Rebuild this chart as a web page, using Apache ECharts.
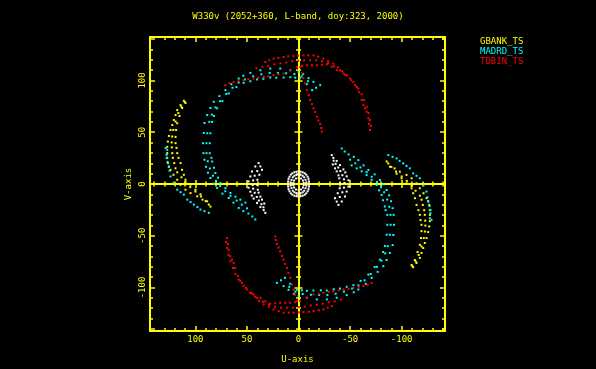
<!DOCTYPE html>
<html><head><meta charset="utf-8">
<script src="https://cdn.jsdelivr.net/npm/echarts@6/dist/echarts.min.js"></script>
<style>html,body{margin:0;padding:0;background:#000;}#c{width:596px;height:369px;}</style>
</head><body><div id="c"></div>
<script>
// ---- data (U, V in plot units; one half of each track; the conjugate half (-U,-V) is added below)
const titleText = 'W330v (2052+360, L-band, doy:323, 2000)';
const seriesNames = ['GBANK_TS', 'MADRD_TS', 'TDBIN_TS'];
const majorTicks = [-100, -50, 0, 50, 100];
const minorTicks = [-140,-130,-120,-110,-90,-80,-70,-60,-40,-30,-20,-10,10,20,30,40,60,70,80,90,110,120,130,140];

const gbankOuter = [[111.2,80.4],[114.4,76.2],[117.6,71.4],[119.2,66.6],[120.9,61.8],[122.4,57.0],[124.1,52.2],[125.7,46.4],[126.7,41.0],[127.3,35.9],[127.3,29.8],[127.3,25.3],[126.7,20.2],[125.7,16.6],[124.1,13.7],[121.2,8.9],[117.6,4.1],[114.4,-0.7],[109.6,-5.5],[104.7,-8.8],[98.2,-11.9],[93.1,-15.1],[87.0,-19.9]];
const gbankMid = [[110.4,79.3],[113.6,74.8],[116.5,68.5],[119.2,60.3],[121.4,52.2],[122.5,45.9],[123.0,40.2],[122.8,35.4],[122.4,29.8],[121.8,25.3],[120.5,20.2],[119.3,15.2],[117.6,11.3],[113.5,6.5],[109.6,2.0],[105.0,-3.0],[100.0,-7.3],[94.5,-12.0],[90.0,-16.5]];
const gbankInner = [[109.6,78.2],[112.8,73.4],[115.4,65.7],[117.6,58.7],[118.7,52.2],[119.2,45.5],[119.2,39.4],[118.3,34.9],[117.6,29.8],[116.3,25.3],[114.4,20.2],[112.9,13.7],[111.2,8.9],[109.6,4.1],[104.7,-0.7],[99.9,-5.5],[95.1,-9.9],[88.6,-16.7],[85.4,-21.8]];

const madrdOuter = [[-21.0,95.5],[-14.5,98.6],[-9.7,102.2],[-4.5,106.1],[0,108.5],[8.0,109.9],[17.7,111.5],[27.4,111.5],[37.0,109.9],[46.7,107.3],[53.5,104.6],[58.0,101.9],[65.1,96.4],[70.9,90.7],[76.7,84.9],[82.2,79.4],[85.4,73.4],[88.6,66.6],[91.2,58.9],[91.9,49.3],[92.6,39.4],[92.2,29.8],[91.2,23.4],[89.7,16.6],[87.8,10.9],[85.4,5.8],[82.2,0.3],[78.9,-3.8],[73.8,-9.3],[67.7,-13.5],[63.1,-18.0],[58.0,-23.1],[53.5,-26.2],[48.6,-28.6],[44.8,-31.4],[41.9,-34.3]];
const madrdMid = [[-17.0,93.0],[-9.0,99.3],[-3.0,104.0],[4.0,106.3],[12.0,107.0],[20.0,107.2],[28.0,107.2],[36.0,106.0],[44.0,104.0],[52.0,101.0],[58.0,98.0],[64.0,93.0],[70.0,87.0],[76.0,80.0],[80.5,74.0],[84.0,67.0],[86.5,60.0],[88.5,49.0],[89.3,39.4],[89.2,29.8],[88.0,22.0],[86.0,15.0],[83.0,8.0],[80.0,3.0],[76.0,-2.0],[71.0,-7.0],[66.0,-11.5],[60.0,-16.0],[55.0,-20.0],[50.0,-23.5]];
const madrdInner = [[-13.2,90.7],[-8.1,96.4],[-1.6,102.2],[3.2,102.7],[8.0,103.2],[14.5,102.9],[21.6,102.7],[27.4,102.9],[34.1,101.7],[40.2,101.0],[46.7,99.3],[53.2,97.7],[60.2,93.6],[67.7,87.5],[73.8,80.1],[78.9,73.1],[82.0,65.7],[83.7,59.9],[85.4,49.0],[86.1,39.4],[86.1,29.8],[84.4,25.3],[83.7,21.7],[82.0,15.7],[80.6,10.6],[78.1,6.1],[75.7,1.0],[70.9,-4.0],[66.0,-8.7],[61.2,-12.2],[56.4,-15.1],[51.5,-18.0]];
const madrdShort = [[128.9,34.6],[127.3,33.0],[127.9,28.2],[127.9,25.0],[127.0,21.4],[125.7,16.9],[125.0,12.8],[124.1,7.3],[121.2,1.2],[117.6,-5.5],[114.4,-7.9],[111.2,-10.3],[107.9,-15.1],[104.7,-17.5],[101.5,-19.9],[98.0,-22.3],[95.1,-24.7],[91.2,-26.2],[87.0,-27.9]];

const tdbinInner = [[70.9,95.5],[67.0,97.4],[62.9,98.6],[58.3,99.3],[53.2,100.3],[48.6,101.2],[43.5,101.9],[39.0,102.7],[33.8,103.5],[29.3,104.1],[24.2,105.1],[19.6,106.1],[14.5,106.7],[8.0,109.9],[1.5,113.1],[-3.3,114.2],[-8.1,114.7],[-13.0,114.7],[-17.8,114.7],[-22.6,115.2],[-27.5,115.7],[-32.3,113.3],[-37.1,109.9],[-43.5,106.7],[-50.0,101.9],[-53.2,98.4],[-56.5,93.8],[-58.7,88.7],[-61.3,81.1],[-62.9,76.2],[-64.5,73.1],[-66.1,69.8],[-67.7,63.5],[-68.4,58.0],[-69.3,52.2]];
const tdbinOuter = [[32.2,117.9],[28.3,119.5],[24.2,121.1],[19.6,121.9],[14.5,122.7],[10.0,123.4],[4.8,123.6],[0.3,124.0],[-4.8,124.3],[-9.4,124.3],[-14.5,124.3],[-19.1,122.9],[-24.2,121.1],[-28.7,118.6],[-33.8,116.3],[-38.4,112.8],[-42.3,108.9],[-46.8,105.1],[-51.0,100.3],[-54.8,95.5],[-58.0,92.3],[-61.3,86.8],[-63.5,81.1],[-66.1,74.6],[-67.9,68.6],[-69.3,61.8],[-70.3,56.1]];
const tdbinMid = [[40.9,111.8],[35.1,113.3],[29.3,114.2],[23.5,115.7],[17.7,116.6],[11.9,117.3],[6.1,118.6],[0.3,119.0],[-5.5,119.5],[-11.3,119.5],[-17.1,119.5],[-22.9,118.6],[-28.7,116.6],[-34.5,113.7],[-40.3,109.9],[-45.2,105.6]];
const tdbinShort = [[-1.6,113.1],[-3.6,107.0],[-4.8,102.2],[-6.5,97.1],[-8.1,90.7],[-9.9,85.9],[-11.3,81.1],[-13.0,77.2],[-14.5,73.1],[-16.1,69.5],[-17.8,65.0],[-19.3,61.3],[-21.0,58.0],[-22.0,54.1],[-22.6,50.6]];

const groundArcOuter = [[38.7,20.2],[41.9,16.9],[45.1,12.1],[46.7,7.3],[48.4,2.5],[49.6,0.3],[48.4,-3.6],[46.7,-7.4],[45.3,-11.2],[43.5,-14.1],[40.2,-18.3],[37.0,-22.3],[33.8,-25.2],[32.2,-27.9]];
const groundArcMid = [[37.0,17.0],[40.0,12.5],[42.5,8.0],[44.0,3.5],[44.5,-1.0],[44.0,-4.5],[42.5,-8.5],[40.5,-12.5],[38.5,-16.0],[36.0,-19.5],[34.0,-22.5]];
const groundArcInner = [[35.4,13.7],[38.0,8.9],[39.9,4.1],[40.2,-0.7],[39.5,-5.5],[38.7,-8.4],[37.0,-12.2],[35.4,-15.1],[33.2,-18.9]];
const groundRingOuter = [[0,12],[2,11.9],[4,11.3],[6,10.3],[7.5,9],[8.8,7],[9.7,5],[10,2.5],[10.2,0],[10,-2.5],[9.7,-5],[8.8,-7],[7.5,-9],[6,-10.3],[4,-11.3],[2,-11.9]];
const groundRingMid = [[0,9],[2,8.8],[4,8],[5.5,6.5],[6.8,4],[7.5,1.5],[7.5,-1.5],[6.8,-4],[5.5,-6.5],[4,-8],[2,-8.8]];
const groundRingInner = [[0,6],[2.5,5.3],[4.3,3.3],[5,1],[5,-1],[4.3,-3.3],[2.5,-5.3]];

// ---- build
function withConjugates() {
  const pts = [].concat.apply([], Array.prototype.slice.call(arguments));
  return pts.concat(pts.map(p => [-p[0], -p[1]]));
}
const FONT = 'DejaVu Sans Mono';
const YEL = '#ffff00';
const X_RANGE = { min: -142, max: 144, inverse: true };
const Y_RANGE = { min: -142, max: 142 };

function axis(range, pos, line, ticks, len, inside, onZero, extra) {
  return Object.assign({
    type: 'value', gridIndex: 0, position: pos,
    min: range.min, max: range.max, inverse: !!range.inverse,
    splitLine: { show: false },
    axisLine: { show: line, onZero: onZero, onZeroAxisIndex: 0, lineStyle: { color: YEL, width: 2 } },
    axisTick: { show: true, inside: inside, length: len, customValues: ticks, lineStyle: { color: YEL, width: 1.5 } },
    axisLabel: { show: false }
  }, extra || {});
}
const labelStyle = { show: true, customValues: majorTicks, color: YEL, fontFamily: FONT, fontSize: 9 };

const xAxes = [
  axis(X_RANGE, 'bottom', true, majorTicks, 5, true, false, {
    axisLabel: Object.assign({ margin: 4 }, labelStyle),
    name: 'U-axis', nameLocation: 'middle', nameGap: 24,
    nameTextStyle: { color: YEL, fontFamily: FONT, fontSize: 9 }
  }),
  axis(X_RANGE, 'bottom', false, minorTicks, 3, true, false),
  axis(X_RANGE, 'top', true, majorTicks, 5, true, false),
  axis(X_RANGE, 'top', false, minorTicks, 3, true, false),
  axis(X_RANGE, 'bottom', true, majorTicks, 4, true, true),
  axis(X_RANGE, 'bottom', false, majorTicks, 4, false, true),
  axis(X_RANGE, 'bottom', false, minorTicks, 2.5, true, true),
  axis(X_RANGE, 'bottom', false, minorTicks, 2.5, false, true)
];
const yAxes = [
  axis(Y_RANGE, 'left', true, majorTicks, 5, true, false, {
    axisLabel: Object.assign({ margin: 3, rotate: 90 }, labelStyle),
    name: 'V-axis', nameLocation: 'middle', nameGap: 17, nameRotate: 90,
    nameTextStyle: { color: YEL, fontFamily: FONT, fontSize: 9 }
  }),
  axis(Y_RANGE, 'left', false, minorTicks, 3, true, false),
  axis(Y_RANGE, 'right', true, majorTicks, 5, true, false),
  axis(Y_RANGE, 'right', false, minorTicks, 3, true, false),
  axis(Y_RANGE, 'left', true, majorTicks, 4, true, true),
  axis(Y_RANGE, 'left', false, majorTicks, 4, false, true),
  axis(Y_RANGE, 'left', false, minorTicks, 2.5, true, true),
  axis(Y_RANGE, 'left', false, minorTicks, 2.5, false, true)
];

function scatter(name, color, data) {
  return {
    name: name, type: 'scatter', xAxisIndex: 0, yAxisIndex: 0,
    symbol: 'rect', symbolSize: [2, 2], data: data,
    itemStyle: { color: color, opacity: 1 }, emphasis: { disabled: true }
  };
}

const chart = echarts.init(document.getElementById('c'), null, { renderer: 'canvas' });
chart.setOption({
  backgroundColor: '#000000',
  animation: false,
  title: {
    text: titleText, left: 'center', top: 12, padding: 0,
    textStyle: { color: YEL, fontFamily: FONT, fontSize: 9, fontWeight: 'normal' }
  },
  legend: {
    orient: 'vertical', left: 470, top: 32, itemWidth: 0, itemHeight: 10, itemGap: 0.5,
    icon: 'none', selectedMode: false,
    textStyle: { fontFamily: FONT, fontSize: 9 },
    data: [
      { name: seriesNames[0], textStyle: { color: '#ffff00' } },
      { name: seriesNames[1], textStyle: { color: '#00ffff' } },
      { name: seriesNames[2], textStyle: { color: '#ff0000' } }
    ]
  },
  grid: { left: 150, top: 37, width: 295, height: 294, containLabel: false, outerBoundsMode: 'none' },
  xAxis: xAxes,
  yAxis: yAxes,
  series: [
    scatter('ground', '#ffffff', withConjugates(groundArcOuter, groundArcMid, groundArcInner, groundRingOuter, groundRingMid, groundRingInner)),
    scatter(seriesNames[0], '#ffff00', withConjugates(gbankOuter, gbankMid, gbankInner)),
    scatter(seriesNames[1], '#00ffff', withConjugates(madrdOuter, madrdMid, madrdInner, madrdShort)),
    scatter(seriesNames[2], '#ff0000', withConjugates(tdbinInner, tdbinOuter, tdbinMid, tdbinShort))
  ]
});
</script>
</body></html>
